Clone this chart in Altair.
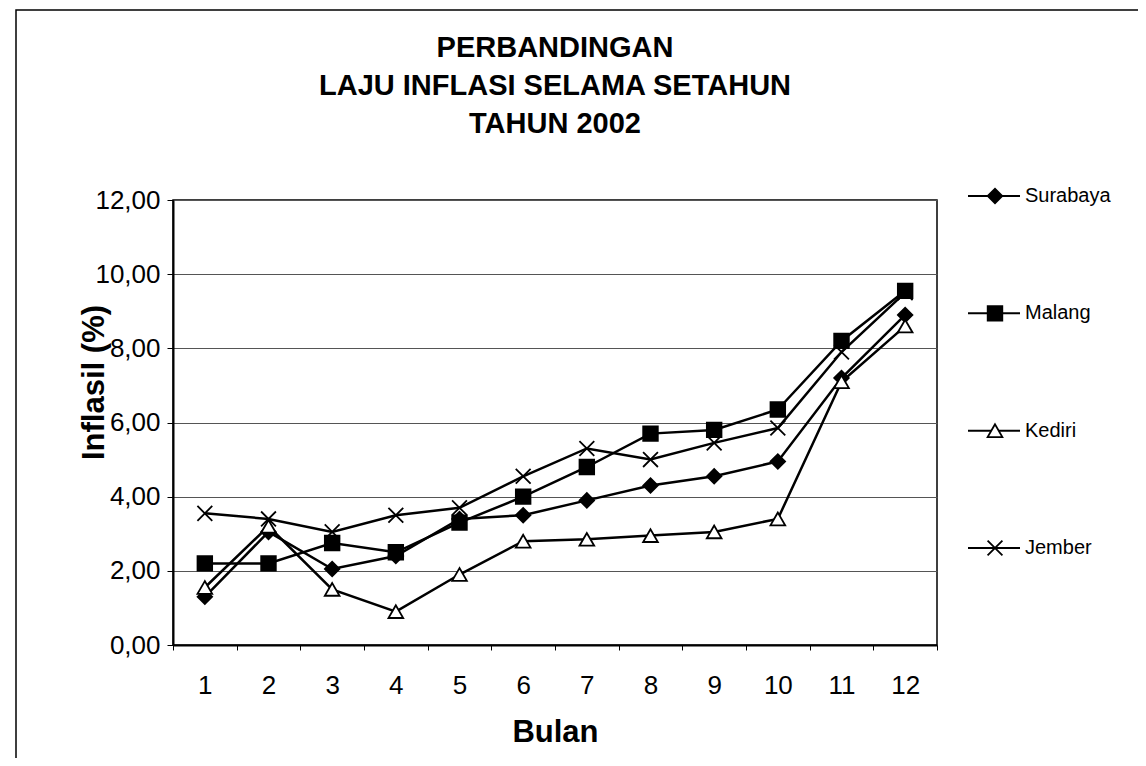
import altair as alt
import pandas as pd

# ---- data ----
months = [1, 2, 3, 4, 5, 6, 7, 8, 9, 10, 11, 12]
series_names = ["Surabaya", "Malang", "Kediri", "Jember"]
surabaya = [1.30, 3.05, 2.05, 2.40, 3.40, 3.50, 3.90, 4.30, 4.55, 4.95, 7.20, 8.90]
malang = [2.20, 2.20, 2.75, 2.50, 3.30, 4.00, 4.80, 5.70, 5.80, 6.35, 8.20, 9.55]
kediri = [1.55, 3.20, 1.50, 0.90, 1.90, 2.80, 2.85, 2.95, 3.05, 3.40, 7.10, 8.60]
jember = [3.55, 3.40, 3.05, 3.50, 3.70, 4.55, 5.30, 5.00, 5.45, 5.85, 7.90, 9.50]
y_ticks = [0, 2, 4, 6, 8, 10, 12]
title_lines = ["PERBANDINGAN", "LAJU INFLASI SELAMA SETAHUN", "TAHUN 2002"]

rows = []
for name, vals in zip(series_names, [surabaya, malang, kediri, jember]):
    for m, v in zip(months, vals):
        rows.append({"bulan": m, "kota": name, "inflasi": v})
df = pd.DataFrame(rows)
legend_df = pd.DataFrame({"kota": series_names})

FONT = "Liberation Sans"
X_SHAPE = "M-1,-1L1,1M-1,1L1,-1"
shape_scale = alt.Scale(domain=series_names, range=["diamond", "square", "triangle-up", X_SHAPE])
fill_scale = alt.Scale(domain=series_names, range=["black", "black", "white", "transparent"])
size_scale = alt.Scale(domain=series_names, range=[210, 220, 190, 190])

x_enc = alt.X(
    "bulan:O",
    bandPosition=0.5,
    scale=alt.Scale(type="band", paddingInner=0, paddingOuter=0),
    axis=alt.Axis(
        title="Bulan", labelAngle=0, tickBand="extent", tickSize=5,
        labelPadding=22, titlePadding=19, grid=False,
    ),
)
y_enc = alt.Y(
    "inflasi:Q",
    scale=alt.Scale(domain=[0, 12], nice=False),
    axis=alt.Axis(
        values=y_ticks,
        labelExpr="replace(format(datum.value, '.2f'), '.', ',')",
        title="Inflasil (%)", tickSize=6, labelPadding=7,
        titleX=-70, titleY=182, titleAngle=-90, titleBaseline="alphabetic",
        titleAlign="center",
        grid=True,
    ),
)

lines = alt.Chart(df).mark_line(color="black", strokeWidth=2.5).encode(
    x=x_enc, y=y_enc, detail="kota:N"
)
points = alt.Chart(df).mark_point(stroke="black", strokeWidth=1.8, opacity=1).encode(
    x=x_enc, y=y_enc,
    shape=alt.Shape("kota:N", scale=shape_scale, legend=None),
    fill=alt.Fill("kota:N", scale=fill_scale, legend=None),
    size=alt.Size("kota:N", scale=size_scale, legend=None),
)
main = alt.layer(lines, points)

leg_y = alt.Y("kota:N", scale=alt.Scale(type="point", domain=series_names, range=[-4, 348], padding=0), axis=None)
leg_rule = alt.Chart(legend_df).mark_rule(color="black", strokeWidth=2).encode(
    x=alt.value(795), x2=alt.value(847), y=leg_y
)
leg_pts = alt.Chart(legend_df).mark_point(stroke="black", strokeWidth=1.8, opacity=1).encode(
    x=alt.value(822), y=leg_y,
    shape=alt.Shape("kota:N", scale=shape_scale, legend=None),
    fill=alt.Fill("kota:N", scale=fill_scale, legend=None),
    size=alt.Size("kota:N", scale=size_scale, legend=None),
)
leg_text = alt.Chart(legend_df).mark_text(
    align="left", baseline="middle", font=FONT, fontSize=20, color="black"
).encode(x=alt.value(852), y=leg_y, text="kota:N")
legend = alt.layer(leg_rule, leg_pts, leg_text)

frame = alt.Chart(pd.DataFrame({"a": [0]})).mark_rect(
    fillOpacity=0, stroke="black", strokeWidth=1.5
).encode(x=alt.value(-157), x2=alt.value(990), y=alt.value(-190), y2=alt.value(562))

chart = alt.layer(frame, main, legend).resolve_scale(y="independent").properties(
    width=764,
    height=445,
    title=alt.Title(
        text=title_lines, fontSize=29, font=FONT, fontWeight="bold",
        lineHeight=38, anchor="middle", offset=40, dy=170, color="black",
    ),
    autosize=alt.AutoSizeParams(type="none"),
    padding={"left": 165, "top": 192, "right": 201, "bottom": 113},
).configure_view(
    stroke="black", strokeWidth=1.5
).configure_axis(
    labelFont=FONT, titleFont=FONT, labelFontSize=26, titleFontSize=31,
    titleFontWeight="bold", labelColor="black", titleColor="black",
    domainColor="black", domainWidth=2, tickColor="black", tickWidth=1,
    gridColor="#555555", gridWidth=1,
)

chart.save("out.html", embed_options={"renderer": "svg", "actions": False})
